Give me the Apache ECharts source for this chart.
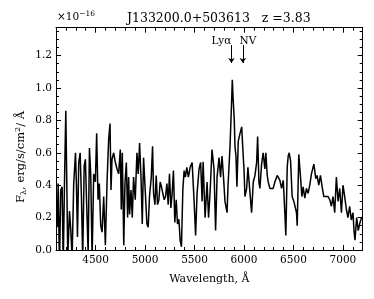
<!DOCTYPE html>
<html><head><meta charset="utf-8">
<script src="https://cdn.jsdelivr.net/npm/echarts@6/dist/echarts.min.js"></script>
<style>html,body{margin:0;padding:0;background:#fff}#c{width:374px;height:299px}</style>
</head><body><div id="c"></div>
<script>
// Wavelength (Å)
const wavelength = [4112,4122,4135,4148,4162,4173,4186,4199,4209,4219,4236,4249,4263,4279,4297,4307,4317,4330,4344,4357,4370,4385,4397,4410,4425,4438,4451,4465,4481,4498,4511,4525,4538,4552,4566,4582,4599,4616,4632,4646,4656,4666,4683,4700,4717,4733,4750,4760,4770,4785,4797,4811,4824,4834,4844,4858,4871,4884,4901,4918,4931,4945,4959,4972,4985,5002,5019,5032,5045,5063,5076,5086,5100,5113,5126,5140,5153,5166,5180,5194,5207,5221,5234,5247,5261,5274,5287,5301,5315,5328,5342,5355,5368,5382,5395,5408,5422,5438,5456,5476,5496,5511,5526,5546,5562,5577,5587,5607,5627,5642,5657,5677,5697,5713,5728,5748,5763,5778,5793,5808,5829,5839,5859,5874,5882,5889,5902,5909,5919,5929,5942,5960,5977,5987,6000,6010,6027,6040,6061,6077,6094,6111,6128,6138,6151,6161,6178,6194,6211,6221,6235,6245,6262,6279,6295,6312,6336,6363,6380,6397,6413,6423,6437,6447,6457,6471,6487,6504,6521,6531,6538,6554,6564,6574,6585,6598,6615,6632,6648,6665,6682,6706,6726,6739,6756,6773,6790,6807,6827,6850,6867,6884,6900,6917,6934,6951,6968,6985,7001,7018,7035,7051,7068,7085,7102,7112,7122,7139,7155,7169,7188,7196];
// Flux (1e-16 erg/s/cm2/Å)
const flux = [0.14,0.41,-0.1,0.37,0.39,-0.1,0.42,0.86,0.42,-0.05,0.24,0.13,-0.05,0.41,0.6,0.39,0.08,0.54,0.6,0.33,-0.05,0.52,0.56,0.28,-0.02,0.63,0.47,-0.05,0.47,0.42,0.72,0.31,0.41,0.15,0.11,0.33,0.03,0.42,0.68,0.78,0.37,0.56,0.6,0.54,0.5,0.47,0.62,0.25,0.6,0.03,0.41,0.54,0.2,0.45,0.22,0.37,0.2,0.45,0.31,0.6,0.47,0.66,0.45,0.16,0.57,0.56,0.16,0.14,0.33,0.45,0.64,0.35,0.28,0.46,0.28,0.31,0.42,0.39,0.35,0.31,0.33,0.41,0.28,0.47,0.26,0.35,0.49,0.17,0.31,0.16,0.19,0.06,0.02,0.37,0.49,0.45,0.51,0.45,0.51,0.54,0.3,0.09,0.35,0.5,0.54,0.3,0.545,0.2,0.42,0.2,0.35,0.62,0.5,0.12,0.45,0.57,0.45,0.58,0.45,0.3,0.23,0.4,0.64,0.9,1.05,0.95,0.8,0.64,0.58,0.39,0.67,0.72,0.76,0.64,0.5,0.33,0.38,0.51,0.35,0.23,0.42,0.46,0.54,0.7,0.42,0.38,0.53,0.6,0.5,0.6,0.46,0.42,0.38,0.38,0.38,0.42,0.46,0.43,0.38,0.43,0.23,0.09,0.51,0.58,0.6,0.55,0.33,0.3,0.29,0.23,0.15,0.59,0.58,0.43,0.33,0.39,0.32,0.38,0.35,0.4,0.47,0.53,0.44,0.46,0.4,0.46,0.39,0.33,0.34,0.33,0.31,0.27,0.33,0.23,0.45,0.3,0.38,0.23,0.4,0.33,0.25,0.2,0.27,0.185,0.23,0.12,0.06,0.2,0.12,0.16,0.2,0.2];
const xMajor = [4500,5000,5500,6000,6500,7000];
const yMajor = [0,0.2,0.4,0.6,0.8,1.0,1.2];
const lines = [{name:'Lyα', wl:5873}, {name:'NV', wl:5989}];
const titleText = 'J133200.0+503613   z =3.83';

const FONT = 'DejaVu Serif';
const X0 = 4100, X1 = 7200, Y0 = 0, Y1 = 1.372;
const GL = 56, GR = 11.3, GT = 27.7, GB = 49;
const W = 374;
// helper grid spanning exactly the first to last major x tick, to draw long major ticks
const pxPerA = (W - GL - GR) / (X1 - X0);
const G2L = GL + (xMajor[0] - X0) * pxPerA;
const G2R = GR + (X1 - xMajor[xMajor.length-1]) * pxPerA;

const chart = echarts.init(document.getElementById('c'), null, {renderer:'canvas'});
const tickStyle = {color:'#000', width:1};
function xLabelAx(){
  return {type:'value', gridIndex:0, position:'bottom', min:X0, max:X1,
    axisLine:{show:true, onZero:false, lineStyle:tickStyle}, splitLine:{show:false},
    axisTick:{show:false},
    axisLabel:{show:true, customValues:xMajor, margin:5, color:'#000', fontFamily:FONT, fontSize:10.5, formatter:v=>String(v)},
    name:'Wavelength, Å', nameLocation:'middle', nameGap:24,
    nameTextStyle:{color:'#000', fontFamily:FONT, fontSize:11}};
}
function xMinorAx(pos){
  return {type:'value', gridIndex:0, position:pos, min:X0, max:X1, interval:100,
    axisLine:{show:pos==='top', onZero:false, lineStyle:tickStyle}, splitLine:{show:false}, axisLabel:{show:false},
    axisTick:{show:true, inside:true, length:3, lineStyle:tickStyle}};
}
function xMajorAx(pos){
  return {type:'value', gridIndex:1, position:pos, min:xMajor[0], max:xMajor[xMajor.length-1], interval:500,
    axisLine:{show:false}, splitLine:{show:false}, axisLabel:{show:false},
    axisTick:{show:true, inside:true, length:5, lineStyle:tickStyle}};
}
function yMajorAx(pos, labels){
  return {type:'value', gridIndex:0, position:pos, min:Y0, max:Y1, interval:0.2,
    axisLine:{show:true, onZero:false, lineStyle:tickStyle}, splitLine:{show:false},
    axisTick:{show:true, inside:true, length:5, lineStyle:tickStyle},
    axisLabel:{show:labels, customValues:yMajor, margin:4, color:'#000', fontFamily:FONT, fontSize:10.5,
      formatter:v=>v.toFixed(1)}};
}
function yMinorAx(pos){
  return {type:'value', gridIndex:0, position:pos, min:Y0, max:Y1, interval:0.05,
    axisLine:{show:false}, splitLine:{show:false}, axisLabel:{show:false},
    axisTick:{show:true, inside:true, length:3, lineStyle:tickStyle}};
}

chart.setOption({
  animation:false,
  backgroundColor:'#fff',
  title:{text:titleText, left:122, top:7, textStyle:{fontFamily:FONT, fontSize:12.5, fontWeight:'normal', color:'#000'}},
  grid:[
    {left:GL, right:GR, top:GT, bottom:GB, containLabel:false},
    {left:G2L, right:G2R, top:GT, bottom:GB, containLabel:false}
  ],
  xAxis:[xLabelAx(), xMinorAx('bottom'), xMinorAx('top'), xMajorAx('bottom'), xMajorAx('top')],
  yAxis:[yMajorAx('left', true), yMinorAx('left'), yMajorAx('right', false), yMinorAx('right'),
         {type:'value', gridIndex:1, min:Y0, max:Y1, show:false}],
  graphic:[
    {type:'text', left:57, top:10, style:{text:'{a|×10}{b|−16}', rich:{a:{fontFamily:FONT, fontSize:10.5, fill:'#000'}, b:{fontFamily:FONT, fontSize:7.5, fill:'#000', verticalAlign:'top', padding:[0,0,6,0]}}}},
    {type:'text', x:21, y:157, rotation:Math.PI/2, style:{text:'{a|F}{s|λ}{a|, erg/s/cm}{p|2}{a|/ Å}', align:'center', verticalAlign:'middle',
      rich:{a:{fontFamily:FONT, fontSize:11.5, fill:'#000'}, s:{fontFamily:FONT, fontSize:8, fill:'#000', padding:[5,0,0,0]}, p:{fontFamily:FONT, fontSize:8, fill:'#000', padding:[0,0,6,0]}}}}
  ],
  series:[{
    type:'line', xAxisIndex:0, yAxisIndex:0, data:wavelength.map((w,i)=>[w, flux[i]]),
    showSymbol:false, symbol:'none', clip:true,
    lineStyle:{color:'#000', width:1.5},
    markLine:{silent:true, symbol:['none','arrow'], symbolSize:5,
      lineStyle:{color:'#000', width:1, type:'solid'},
      label:{show:true, position:'start', distance:0, color:'#000', fontFamily:FONT, fontSize:10.5},
      data:lines.map((l,i)=>[
        {coord:[l.wl, 1.265], label:{formatter:l.name, offset:[i===0?-10:5,2]}},
        {coord:[l.wl, 1.154]}
      ])}
  }]
});
</script></body></html>
